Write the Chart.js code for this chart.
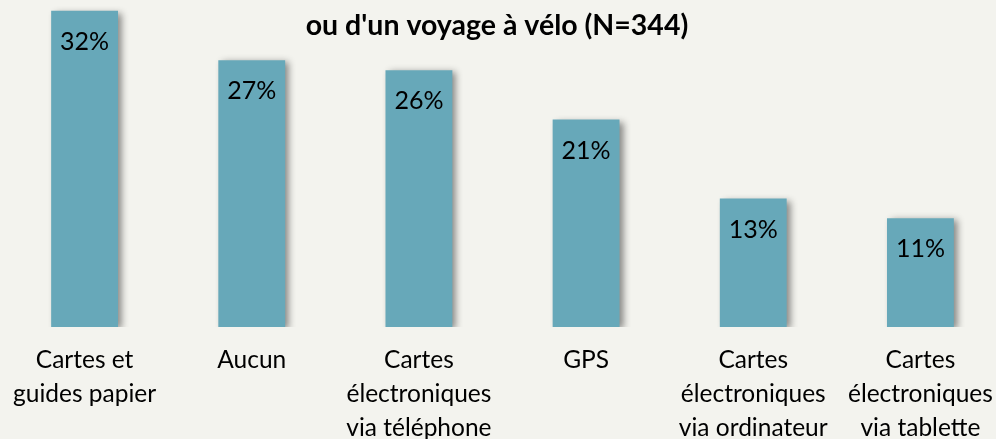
<!DOCTYPE html>
<html>
<head>
<meta charset="utf-8">
<script src="https://cdn.jsdelivr.net/npm/chart.js@4/dist/chart.umd.min.js"></script>
<style>
    html, body { margin: 0; padding: 0; background: #f3f3ee; overflow: hidden; }
    #wrap { position: absolute; left: 0; top: 0; width: 1004px; height: 439px; }
</style>
</head>
<body>
<div id="wrap"><canvas id="supportsChart" width="1004" height="439"></canvas></div>
<script>
const categories = [
    ['Cartes et', 'guides papier'],
    ['Aucun'],
    ['Cartes', 'électroniques', 'via téléphone'],
    ['GPS'],
    ['Cartes', 'électroniques', 'via ordinateur'],
    ['Cartes', 'électroniques', 'via tablette']
];
const percentages = [32, 27, 26, 21, 13, 11];
const titleLines = [
    'Types de supports utilisés lors de la préparation d\'un séjour',
    'ou d\'un voyage à vélo (N=344)'
];

const fontFamily = 'Lato, "Open Sans", sans-serif';

// title overlaps the plot area, so it is painted by hand
const titlePlugin = {
    id: 'overlayTitle',
    afterDraw(chart) {
        const ctx = chart.ctx;
        ctx.save();
        ctx.font = 'bold 28.5px ' + fontFamily;
        ctx.fillStyle = '#000';
        ctx.textAlign = 'center';
        ctx.textBaseline = 'alphabetic';
        ctx.fillText(titleLines[0], 497, -5);
        ctx.fillText(titleLines[1], 497, 35);
        ctx.restore();
    }
};

// soft drop shadow behind the bars
const shadowPlugin = {
    id: 'barShadow',
    beforeDatasetsDraw(chart) {
        const ctx = chart.ctx;
        ctx.save();
        ctx.shadowColor = 'rgba(0, 0, 0, 0.45)';
        ctx.shadowBlur = 7;
        ctx.shadowOffsetX = 4;
        ctx.shadowOffsetY = 2;
    },
    afterDatasetsDraw(chart) {
        chart.ctx.restore();
    }
};

// percentage written inside the top of each bar
const valuePlugin = {
    id: 'barValues',
    afterDatasetsDraw(chart) {
        const ctx = chart.ctx;
        const meta = chart.getDatasetMeta(0);
        ctx.save();
        ctx.font = '25px ' + fontFamily;
        ctx.fillStyle = '#000';
        ctx.textAlign = 'center';
        ctx.textBaseline = 'middle';
        meta.data.forEach((bar, i) => {
            ctx.fillText(percentages[i] + '%', bar.x, bar.y + 31);
        });
        ctx.restore();
    }
};

var ctx = document.getElementById('supportsChart').getContext('2d');
var supportsChart = new Chart(ctx, { // eslint-disable-line
    type: 'bar',
    data: {
        labels: categories,
        datasets: [{
            data: percentages,
            backgroundColor: '#67a8b9',
            borderWidth: 0,
            barPercentage: 0.4,
            categoryPercentage: 1
        }]
    },
    options: {
        responsive: false,
        animation: false,
        devicePixelRatio: 1,
        layout: {
            padding: { left: 1, right: 0, top: 0, bottom: 0 }
        },
        plugins: {
            legend: { display: false },
            title: { display: false },
            tooltip: { enabled: false }
        },
        scales: {
            y: {
                display: false,
                min: 0,
                max: 33.1
            },
            x: {
                grid: { display: false },
                border: { display: false },
                ticks: {
                    color: '#000',
                    font: { family: fontFamily, size: 24.5, lineHeight: 1.39 },
                    maxRotation: 0,
                    autoSkip: false,
                    padding: 8
                },
                afterFit(scale) {
                    scale.height = 112;
                }
            }
        }
    },
    plugins: [shadowPlugin, valuePlugin, titlePlugin]
});
</script>
</body>
</html>
